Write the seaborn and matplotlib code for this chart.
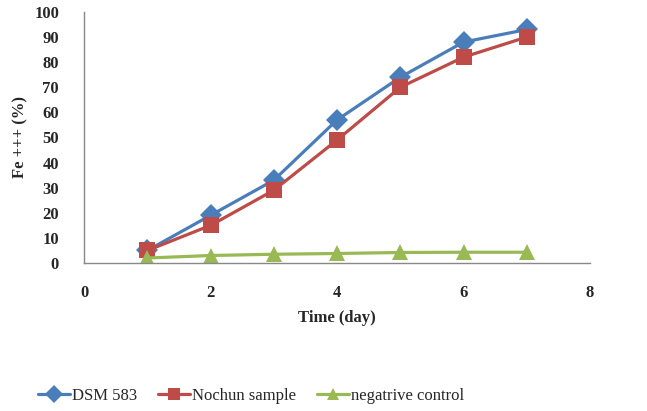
import matplotlib
matplotlib.use('Agg')
import matplotlib.pyplot as plt
import pandas as pd
import seaborn as sns

# Data
days = [1, 2, 3, 4, 5, 6, 7]
dsm_583 = [5, 19, 33, 57, 74, 88, 93]
nochun = [5, 15, 29, 49, 70, 82, 90]
negative = [2, 3, 3.5, 3.8, 4.2, 4.3, 4.3]

series_names = ['DSM 583', 'Nochun sample', 'negatrive control']
colors = ['#4a7ebb', '#be4b48', '#98b954']
markers = ['D', 's', '^']

df = pd.DataFrame({
    'day': days * 3,
    'value': dsm_583 + nochun + negative,
    'series': [series_names[0]] * 7 + [series_names[1]] * 7 + [series_names[2]] * 7,
})

sns.set_style('white')
plt.rcParams['font.family'] = ['Liberation Serif', 'DejaVu Serif']

fig = plt.figure(figsize=(6.47, 4.11), dpi=100)
ax = fig.add_axes([0.13, 0.36, 0.782, 0.611])

sns.lineplot(data=df, x='day', y='value', hue='series', style='series',
             hue_order=series_names, style_order=series_names,
             palette=colors, markers=dict(zip(series_names, markers)),
             dashes=False, linewidth=2.3, markersize=11, markeredgewidth=0,
             ax=ax)

ax.set_xlim(0, 8)
ax.set_ylim(0, 100)
ax.set_xticks([0, 2, 4, 6, 8])
ax.set_yticks(range(0, 101, 10))
ax.tick_params(axis='x', length=0, labelsize=12, pad=16)
ax.tick_params(axis='y', length=0, labelsize=12, pad=18)
for lab in ax.get_xticklabels() + ax.get_yticklabels():
    lab.set_fontweight('bold')

ax.set_xlabel('Time (day)', fontsize=12, fontweight='bold', labelpad=6)
ax.set_ylabel('Fe +++ (%)', fontsize=12, fontweight='bold', labelpad=4)

for side in ['top', 'right']:
    ax.spines[side].set_visible(False)
for side in ['left', 'bottom']:
    ax.spines[side].set_color('#888888')
    ax.spines[side].set_linewidth(1)

ax.legend(loc='lower center', bbox_to_anchor=(0.33, -0.62), ncol=3,
          frameon=False, fontsize=12, handlelength=1.9, columnspacing=1.3,
          handletextpad=0.1, markerscale=0.8)

fig.savefig('out.png', dpi=100)
